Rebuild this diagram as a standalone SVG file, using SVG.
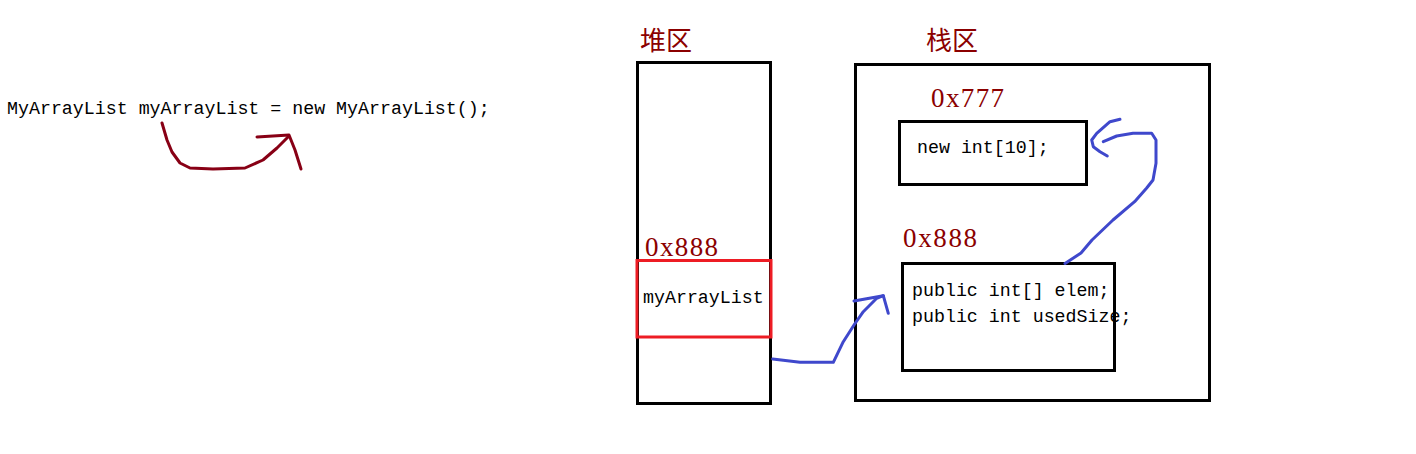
<svg xmlns="http://www.w3.org/2000/svg" width="1416" height="454" viewBox="0 0 1416 454">
<style>
.code{font-family:"Liberation Mono","DejaVu Sans Mono",monospace;font-size:18.3px;fill:#000}
.addr{font-family:"Liberation Serif","Noto Sans CJK SC",serif;font-size:27px;fill:#8b0000}
.cjk{font-family:"Noto Sans CJK SC",sans-serif;font-size:26px;fill:#8b0000}
.box{fill:none;stroke:#000;stroke-width:3}
.red{fill:none;stroke:#ed1c24;stroke-width:3}
.blue{fill:none;stroke:#3f48cc;stroke-width:3;stroke-linecap:round;stroke-linejoin:round}
.maroon{fill:none;stroke:#880015;stroke-width:3;stroke-linecap:round;stroke-linejoin:round}
</style>
<rect width="1416" height="454" fill="#fff"/>
<g id="statement">
<text class="code" x="7" y="114">MyArrayList myArrayList = new MyArrayList();</text>
</g>
<g id="heap">
<text class="cjk" x="640" y="50">堆区</text>
<rect class="box" x="637.5" y="62.5" width="133" height="341"/>
</g>
<g id="heap-ref">
<text class="addr" x="645" y="256" textLength="73">0x888</text>
<rect class="red" x="637" y="260.5" width="134" height="76.5"/>
<text class="code" x="643" y="303">myArrayList</text>
</g>
<g id="stack">
<text class="cjk" x="926" y="50">栈区</text>
<rect class="box" x="855.5" y="64.5" width="354" height="336"/>
</g>
<g id="array-obj">
<text class="addr" x="931" y="106.5" textLength="73">0x777</text>
<rect class="box" x="899.5" y="121.5" width="187" height="63"/>
<text class="code" x="917" y="153">new int[10];</text>
</g>
<g id="list-obj">
<text class="addr" x="903" y="246.5" textLength="74">0x888</text>
<rect class="box" x="902.5" y="263.5" width="212" height="107"/>
<text class="code" x="912" y="296">public int[] elem;</text>
<text class="code" x="912" y="321.5">public int usedSize;</text>
</g>
<g id="connectors">
<path class="maroon" d="M162,123 L167,140 L172,152 L180,163 L190,168 L213,169 L245,168 L263,160 L277,148 L288,137"/>
<path class="maroon" d="M257,137 L289,135 L295,150 L301,169"/>
<path class="blue" d="M772.7,359 L800,362.3 L833.3,362.3 L843.3,341.7 L854,325 L863.3,311.7 L876.7,298.3 L883.3,295.7"/>
<path class="blue" d="M854,301 L883.3,295.7 L888.3,313.3"/>
<path class="blue" d="M1065,263.5 L1081,253 L1092,240 L1113,220 L1134.6,201.7 L1146.7,188 L1153,180 L1156,163.3 L1156,140 L1151.7,133.3 L1133,133.3 L1116.7,136 L1103.3,141.7"/>
<path class="blue" d="M1120,119.3 L1110,121.7 L1096.7,133.3 L1091.7,140 L1093.3,146.7 L1100,151.7 L1107.3,156"/>
</g>
</svg>
